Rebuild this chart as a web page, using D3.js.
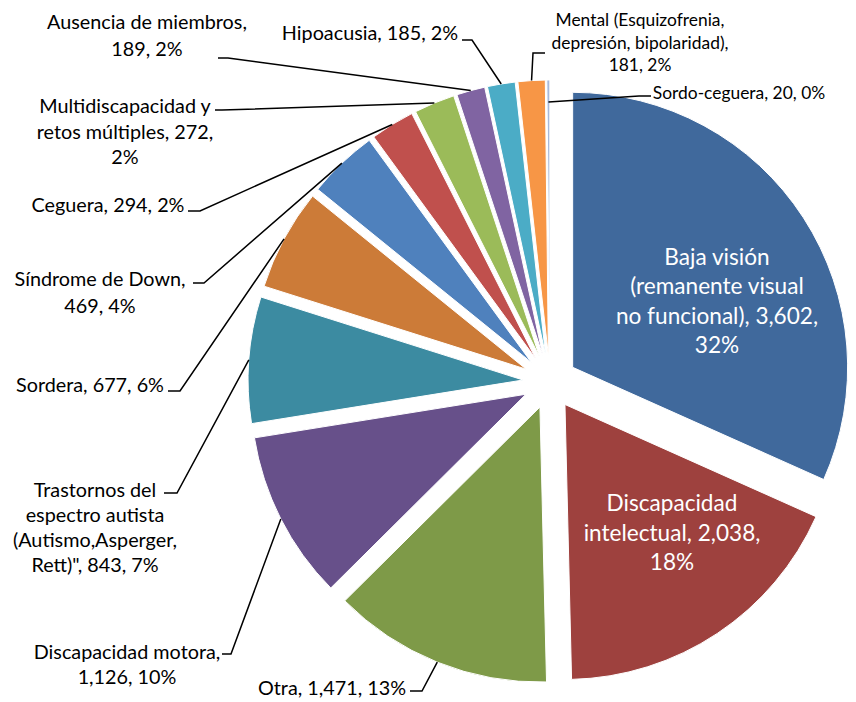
<!DOCTYPE html>
<html>
<head>
<meta charset="utf-8">
<script src="https://cdn.jsdelivr.net/npm/d3@7"></script>
<style>
  body { margin: 0; background: #fff; }
  svg { display: block; font-family: Lato, "Open Sans", sans-serif; }
</style>
</head>
<body>
<div id="chart"></div>
<script>
const categories = [
  'Baja visión (remanente visual no funcional)',
  'Discapacidad intelectual',
  'Otra',
  'Discapacidad motora',
  'Trastornos del espectro autista (Autismo,Asperger, Rett)"',
  'Sordera',
  'Síndrome de Down',
  'Ceguera',
  'Multidiscapacidad y retos múltiples',
  'Ausencia de miembros',
  'Hipoacusia',
  'Mental (Esquizofrenia, depresión, bipolaridad)',
  'Sordo-ceguera'
];
const values = [3602, 2038, 1471, 1126, 843, 677, 469, 294, 272, 189, 185, 181, 20];
const colors = ['#40699c', '#9e413e', '#7e9a48', '#67508a', '#3c8ba1', '#cc7b38',
  '#4f81bd', '#c0504d', '#9bbb59', '#8064a2', '#4bacc6', '#f79646', '#a7b9da'];

// label text, already wrapped the way the chart wraps it
const labelLines = [
  ['Baja visión', '(remanente visual', 'no funcional), 3,602,', '32%'],
  ['Discapacidad', 'intelectual, 2,038,', '18%'],
  ['Otra, 1,471, 13%'],
  ['Discapacidad motora,', '1,126, 10%'],
  ['Trastornos del', 'espectro autista', '(Autismo,Asperger,', 'Rett)", 843, 7%'],
  ['Sordera, 677, 6%'],
  ['Síndrome de Down,', '469, 4%'],
  ['Ceguera, 294, 2%'],
  ['Multidiscapacidad y', 'retos múltiples, 272,', '2%'],
  ['Ausencia de miembros,', '189, 2%'],
  ['Hipoacusia, 185, 2%'],
  ['Mental (Esquizofrenia,', 'depresión, bipolaridad),', '181, 2%'],
  ['Sordo-ceguera, 20, 0%']
];

// layout of each label: centre x, centre y of first line, line height, size, leader tick
const labelLayout = [
  { x: 717, y: 257, lh: 29.3, size: 'big', inside: true },
  { x: 672, y: 503, lh: 29.5, size: 'big', inside: true },
  { x: 332, y: 688, lh: 25, size: 'mid', tick: [410, 422, 691] },
  { x: 127, y: 652, lh: 24.5, size: 'mid', tick: [222, 231, 654] },
  { x: 95, y: 490, lh: 25, size: 'mid', tick: [164, 177, 493] },
  { x: 90, y: 385, lh: 25, size: 'mid', tick: [168, 180, 391] },
  { x: 100, y: 279, lh: 27, size: 'mid', tick: [193, 204, 283] },
  { x: 108, y: 205, lh: 25, size: 'mid', tick: [188, 200, 211] },
  { x: 125, y: 106, lh: 25.5, size: 'mid', tick: [215, 222, 110] },
  { x: 147, y: 22, lh: 27, size: 'mid', tick: [218, 228, 58] },
  { x: 370, y: 33, lh: 25, size: 'mid', tick: [462, 472, 40] },
  { x: 640, y: 20, lh: 22.5, size: 'small', tick: [545, 533, 53] },
  { x: 739, y: 93, lh: 22, size: 'small', tick: [651, 639, 96], reach: 0.92 }
];
const fontSizes = { big: 22.6, mid: 19.8, small: 17.4 };

const width = 856;
const height = 702;
const cx = 550, cy = 382;
const radius = 275;
const explode = 27;

const svg = d3.select('#chart')
  .append('svg')
  .attr('width', width)
  .attr('height', height);

const color = d3.scaleOrdinal().domain(categories).range(colors);

const pie = d3.pie().sort(null).value((d) => d.value);
const arcs = pie(categories.map((c, i) => ({ name: c, value: values[i], i })));

const arc = d3.arc().innerRadius(0).outerRadius(radius);

// direction of an angle measured clockwise from 12 o'clock
const dir = (a) => [Math.sin(a), -Math.cos(a)];

function offset(d) {
  const [dx, dy] = dir((d.startAngle + d.endAngle) / 2);
  return [cx + dx * explode, cy + dy * explode];
}

const slices = svg.append('g').attr('class', 'slices');
slices.selectAll('path')
  .data(arcs)
  .join('path')
  .attr('transform', (d) => `translate(${offset(d)})`)
  .attr('d', arc)
  .attr('fill', (d) => color(d.data.name))
  .attr('stroke', '#fff')
  .attr('stroke-width', 1);

// leader lines
const leaders = svg.append('g').attr('class', 'leaders');
arcs.forEach((d, i) => {
  const lay = labelLayout[i];
  if (lay.inside) return;
  const [ox, oy] = offset(d);
  const [dx, dy] = dir((d.startAngle + d.endAngle) / 2);
  const r = radius * (lay.reach || 1);
  const tx = ox + dx * r, ty = oy + dy * r;
  const [x0, x1, y0] = lay.tick;
  leaders.append('path')
    .attr('d', d3.line()([[x0, y0], [x1, y0], [tx, ty]]))
    .attr('fill', 'none')
    .attr('stroke', '#000')
    .attr('stroke-width', 1.5);
});

// labels
const labels = svg.append('g').attr('class', 'labels');
labelLines.forEach((lines, i) => {
  const lay = labelLayout[i];
  const fs = fontSizes[lay.size];
  const t = labels.append('text')
    .attr('text-anchor', 'middle')
    .attr('font-size', fs)
    .attr('fill', lay.inside ? '#fff' : '#000');
  lines.forEach((line, k) => {
    t.append('tspan')
      .attr('x', lay.x)
      .attr('y', lay.y + k * lay.lh + fs * 0.36)
      .text(line);
  });
});
</script>
</body>
</html>
